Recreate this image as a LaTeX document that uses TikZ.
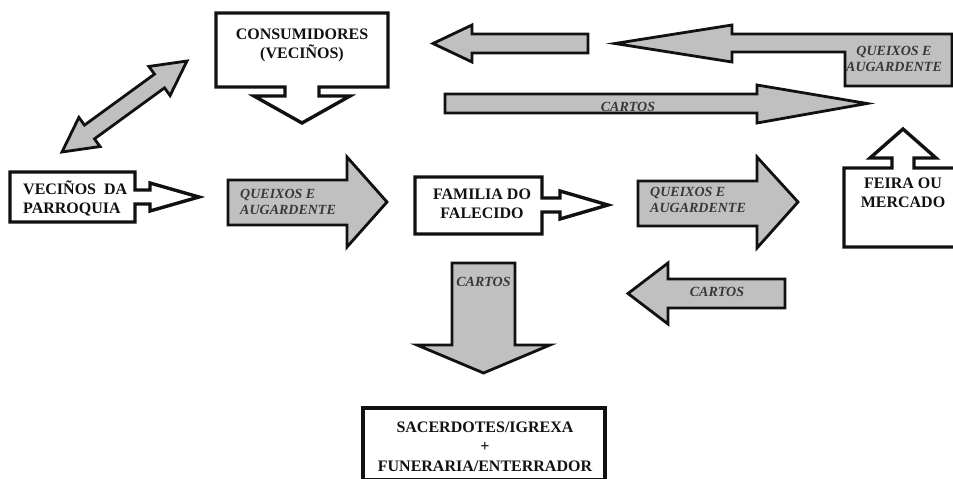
\documentclass[tikz,border=0pt]{standalone}
\usepackage{fontspec}
\setmainfont{Liberation Serif}
\definecolor{arrowgray}{HTML}{C0C0C0}
\definecolor{labelgray}{HTML}{383838}
\definecolor{inkblack}{HTML}{111111}
\tikzset{
  whiteshape/.style={draw=inkblack, fill=white, line width=3.4pt, line join=miter},
  grayshape/.style={draw=inkblack, fill=arrowgray, line width=2.8pt, line join=miter},
  boxtext/.style={font=\fontsize{16}{19}\selectfont\bfseries, text=inkblack, align=center, inner sep=0pt},
  flowtext/.style={font=\fontsize{14}{16}\selectfont\bfseries\itshape, text=labelgray, inner sep=0pt},
}
\begin{document}
\begin{tikzpicture}[x=1pt, y=-1pt]
\useasboundingbox (0,0) rectangle (953,479);
\fill[white] (0,0) rectangle (953,479);
\clip (0,0) rectangle (953,479);

% CONSUMIDORES callout with down arrow
\draw[whiteshape] (216,13) -- (388,13) -- (388,87) -- (319,87) -- (319,96) -- (350,96)
  -- (302,123) -- (254,96) -- (285,96) -- (285,87) -- (216,87) -- cycle;
\node[boxtext] (cons) at (302,45) {CONSUMIDORES\\(VECIÑOS)};

% double arrow
\begin{scope}[shift={(62,152)}, rotate=36.06]
\draw[grayshape] (0,0) -- (34,18) -- (34,8.5) -- (120.6,8.5) -- (120.6,18) -- (154.6,0)
  -- (120.6,-18) -- (120.6,-8.5) -- (34,-8.5) -- (34,-18) -- cycle;
\end{scope}

% VECINOS DA PARROQUIA callout
\draw[whiteshape] (10,172) -- (135,172) -- (135,190) -- (150,190) -- (150,183) -- (199,197)
  -- (150,211) -- (150,204) -- (135,204) -- (135,222) -- (10,222) -- cycle;
\node[boxtext, align=left, anchor=west] (vec) at (23,198.5) {VECIÑOS\hspace{0.5em}DA\\PARROQUIA};

% QUEIXOS arrow (left)
\draw[grayshape] (228,180) -- (347,180) -- (347,157) -- (387,202) -- (347,247) -- (347,225)
  -- (228,225) -- cycle;
\node[flowtext, align=left, anchor=west] (q1) at (240,201.5) {QUEIXOS E\\AUGARDENTE};

% FAMILIA DO FALECIDO callout
\draw[whiteshape] (415,177) -- (542,177) -- (542,198) -- (560,198) -- (560,191) -- (608,205)
  -- (560,219) -- (560,212) -- (542,212) -- (542,234) -- (415,234) -- cycle;
\node[boxtext] (fam) at (482,204) {FAMILIA DO\\FALECIDO};

% QUEIXOS arrow (middle)
\draw[grayshape] (638,181) -- (757,181) -- (757,157) -- (798,202) -- (757,248) -- (757,226)
  -- (638,226) -- cycle;
\node[flowtext, align=left, anchor=west] (q2) at (650,200) {QUEIXOS E\\AUGARDENTE};

% FEIRA OU MERCADO callout with up arrow
\draw[whiteshape] (844,247) -- (844,168) -- (892,168) -- (892,158) -- (870,158) -- (903,129)
  -- (936,158) -- (914,158) -- (914,168) -- (962,168) -- (962,247) -- cycle;
\node[boxtext] (feira) at (903,192.5) {FEIRA OU\\MERCADO};

% CARTOS left arrow (lower right)
\draw[grayshape] (785,279) -- (668,279) -- (668,263) -- (628,293.5) -- (668,324) -- (668,308)
  -- (785,308) -- cycle;
\node[flowtext] (c1) at (717,292) {CARTOS};

% CARTOS down arrow
\draw[grayshape] (452,263) -- (515,263) -- (515,345) -- (550,345) -- (483.5,373) -- (417,345)
  -- (452,345) -- cycle;
\node[flowtext] (c2) at (483.5,282) {CARTOS};

% SACERDOTES box
\draw[whiteshape, line width=4pt] (363,408) rectangle (605,480);
\node[boxtext, font=\fontsize{16}{19.5}\selectfont\bfseries] (sac) at (485,446.5) {SACERDOTES/IGREXA\\+\\FUNERARIA/ENTERRADOR};

% top short left arrow
\draw[grayshape] (588,34) -- (472,34) -- (472,25) -- (433,43.5) -- (472,62) -- (472,53)
  -- (588,53) -- cycle;

% long QUEIXOS left arrow from box
\draw[grayshape] (615,43.5) -- (732,25) -- (732,34) -- (952,34) -- (952,86) -- (845,86)
  -- (845,52) -- (732,52) -- (732,62) -- cycle;
\node[flowtext, align=center] (q3) at (894,58.5) {QUEIXOS E\\AUGARDENTE};

% long CARTOS right arrow
\draw[grayshape] (445,94) -- (757,94) -- (757,85) -- (867,103.5) -- (757,123) -- (757,113)
  -- (445,113) -- cycle;
\node[flowtext] (c3) at (628,106.5) {CARTOS};
\end{tikzpicture}
\end{document}
